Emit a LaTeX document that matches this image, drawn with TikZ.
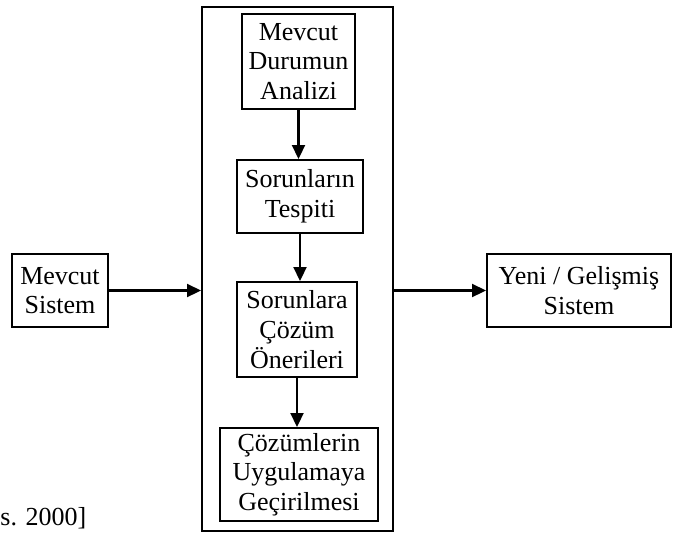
\documentclass[tikz,border=0pt]{standalone}
\usepackage{fontspec}
\setmainfont{Liberation Serif}
\usepackage{tikz}
\usetikzlibrary{arrows.meta, positioning}

\begin{document}
\begin{tikzpicture}[
        x=0.5pt, y=-0.5pt,
        box/.style={rectangle, draw=black, line width=1pt, inner sep=0pt, align=center, font=\fontsize{13}{14.8}\selectfont},
        arrow/.style={-{Triangle[length=7pt, width=6.5pt]}, line width=1.1pt}
    ]
        \useasboundingbox (0,0) rectangle (673,536);

        % Outer frame
        \node[box, minimum width=95.5pt, minimum height=262pt] (frame) at (297.5,269) {};

        % Steps inside the frame
        \node[box, minimum width=56.5pt, minimum height=47.5pt] (analiz) at (298.5,61.5) {Mevcut\\Durumun\\Analizi};
        \node[box, minimum width=63pt, minimum height=36.5pt] (tespit) at (300,196.5) {Sorunların\\Tespiti};
        \node[box, minimum width=60pt, minimum height=47.5pt] (oneri) at (297,329.5) {Sorunlara\\Çözüm\\Önerileri};
        \node[box, minimum width=79pt, minimum height=46.5pt] (uygula) at (299,474.5) {Çözümlerin\\Uygulamaya\\Geçirilmesi};

        % Systems
        \node[box, minimum width=48pt, minimum height=36.5pt] (mevcut) at (60,290.5) {Mevcut\\Sistem};
        \node[box, minimum width=92pt, minimum height=36.5pt] (yeni) at (579,290.5) {Yeni / Gelişmiş\\Sistem};

        \draw[arrow] (analiz.south) -- (analiz.south |- tespit.north);
        \draw[arrow] (tespit.south) -- (tespit.south |- oneri.north);
        \draw[arrow] (oneri.south) -- (oneri.south |- uygula.north);
        \draw[arrow] (mevcut.east) -- (mevcut.east -| frame.west);
        \draw[arrow] (yeni.west -| frame.east) -- (yeni.west);

        % Source
        \node[font=\fontsize{13}{14.8}\selectfont, anchor=base west, inner sep=0pt] (kaynak) at (0,525) {s. 2000]};
    \end{tikzpicture}
\end{document}
